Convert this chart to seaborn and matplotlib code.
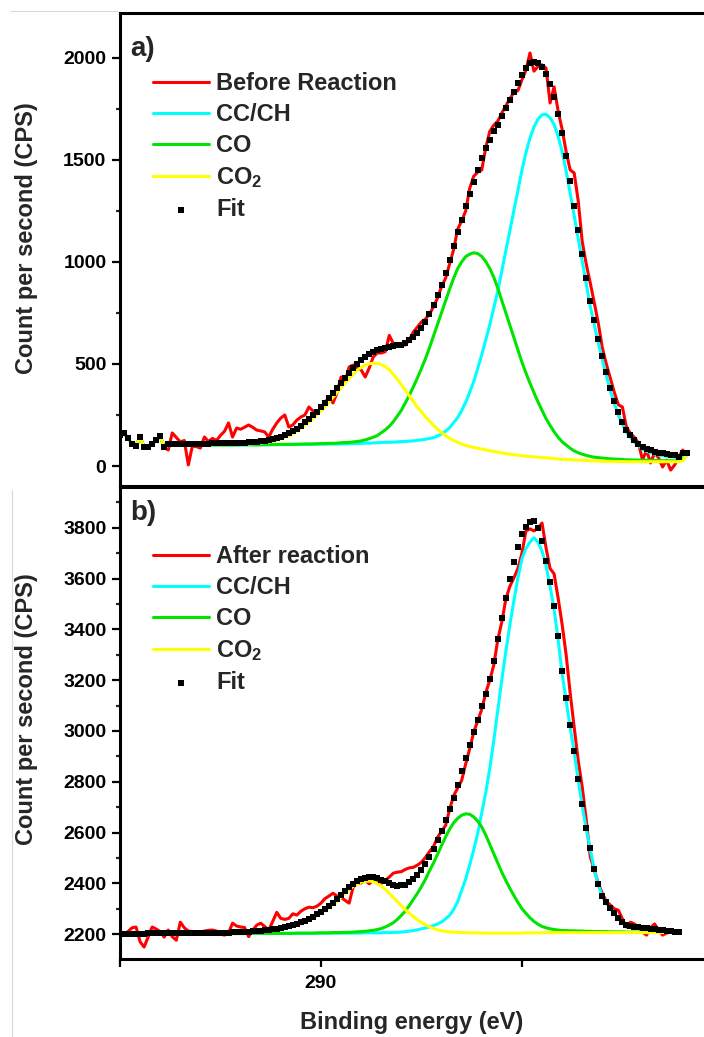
import numpy as np
import matplotlib
matplotlib.use("Agg")
import matplotlib.pyplot as plt
from matplotlib.lines import Line2D
from matplotlib.ticker import MultipleLocator
import seaborn as sns

# ---------------------------------------------------------------------------
# C 1s spectra, binding energy in eV (0.1 eV steps, high -> low)
# ---------------------------------------------------------------------------
energy_before = np.round(np.arange(295.0, 280.85, -0.1), 1)   # 295.0 ... 280.9
energy_after = np.round(np.arange(295.0, 281.05, -0.1), 1)    # 295.0 ... 281.1

# --- a) before reaction -----------------------------------------------------
before_counts = [
    150, 162, 135, 110, 100, 140, 95, 92, 108, 125,
    148, 92, 78, 162, 140, 118, 125, 5, 98, 95,
    88, 142, 120, 135, 125, 150, 170, 211, 142, 186,
    180, 190, 201, 190, 176, 172, 167, 142, 180, 211,
    235, 250, 191, 201, 225, 240, 250, 289, 270, 260,
    289, 314, 333, 309, 358, 436, 412, 485, 495, 480,
    471, 436, 480, 534, 554, 554, 560, 640, 600, 593,
    593, 593, 620, 657, 681, 706, 720, 745, 780, 823,
    880, 920, 990, 1060, 1160, 1200, 1250, 1360, 1420, 1440,
    1451, 1560, 1640, 1670, 1690, 1730, 1765, 1800, 1830, 1840,
    1892, 1940, 2024, 1935, 1958, 1966, 1950, 1779, 1858, 1740,
    1650, 1540, 1451, 1436, 1300, 1100, 990, 897, 800, 700,
    580, 500, 430, 360, 300, 289, 190, 160, 140, 113,
    29, 78, 15, 64, 40, -5, 29, -20, 5, 44,
    78, 54,
]
before_cc = [
    150, 162, 135, 110, 100, 140, 95, 92, 108, 125,
    148, 92, 103, 103, 103, 103, 103, 103, 103, 103,
    103, 103, 103, 103, 103, 104, 104, 104, 104, 104,
    104, 104, 104, 104, 104, 104, 104, 104, 105, 105,
    105, 105, 105, 105, 105, 106, 106, 106, 107, 107,
    107, 107, 108, 108, 108, 108, 108, 109, 110, 110,
    111, 112, 112, 113, 114, 115, 116, 116, 117, 118,
    120, 120, 122, 123, 126, 128, 131, 135, 139, 147,
    157, 170, 188, 212, 237, 271, 312, 361, 413, 478,
    545, 618, 692, 774, 858, 956, 1055, 1154, 1252, 1351,
    1449, 1536, 1607, 1662, 1700, 1721, 1724, 1706, 1674, 1617,
    1541, 1445, 1338, 1226, 1115, 1004, 894, 783, 693, 603,
    520, 444, 367, 306, 250, 203, 165, 140, 116, 100,
    82, 72, 65, 59, 54, 51, 48, 45, 43, 40,
    42, 58,
]
before_co = [
    150, 162, 135, 110, 100, 140, 95, 92, 108, 125,
    148, 92, 102, 102, 102, 102, 102, 102, 102, 103,
    103, 103, 103, 103, 103, 103, 103, 103, 103, 103,
    104, 104, 104, 104, 104, 104, 105, 105, 105, 105,
    106, 106, 106, 107, 107, 107, 108, 108, 108, 109,
    110, 110, 111, 111, 112, 114, 115, 116, 118, 120,
    123, 128, 134, 141, 149, 163, 177, 195, 217, 245,
    273, 310, 347, 388, 432, 478, 526, 580, 637, 694,
    752, 809, 866, 920, 967, 1000, 1026, 1038, 1045, 1041,
    1027, 1002, 968, 925, 871, 811, 750, 690, 629, 569,
    509, 456, 406, 359, 314, 273, 232, 199, 168, 141,
    119, 103, 87, 74, 65, 58, 52, 47, 43, 41,
    39, 37, 35, 34, 33, 32, 30, 30, 29, 29,
    28, 28, 27, 27, 27, 26, 26, 26, 25, 25,
    28, 58,
]
before_co2 = [
    150, 162, 135, 110, 100, 140, 95, 92, 108, 125,
    148, 92, 102, 102, 102, 102, 103, 103, 103, 103,
    103, 104, 104, 104, 105, 105, 105, 106, 106, 106,
    107, 108, 108, 109, 111, 113, 115, 118, 121, 127,
    133, 140, 148, 159, 171, 185, 200, 216, 233, 251,
    270, 290, 313, 337, 360, 383, 406, 429, 451, 469,
    483, 494, 501, 504, 503, 497, 487, 472, 450, 425,
    398, 371, 343, 316, 288, 265, 241, 220, 199, 181,
    164, 149, 136, 125, 116, 107, 101, 96, 91, 87,
    83, 79, 75, 71, 68, 64, 61, 58, 55, 53,
    51, 48, 46, 45, 43, 41, 40, 38, 36, 35,
    33, 32, 31, 30, 29, 28, 27, 26, 25, 24,
    24, 23, 23, 22, 22, 22, 21, 21, 21, 21,
    21, 21, 21, 21, 21, 21, 21, 21, 21, 21,
    25, 58,
]
before_fit = [
    150, 162, 135, 110, 100, 140, 95, 92, 108, 125,
    148, 92, 107, 107, 107, 107, 108, 108, 108, 109,
    110, 110, 110, 111, 111, 112, 112, 112, 113, 113,
    114, 115, 116, 117, 118, 121, 123, 127, 130, 136,
    142, 151, 160, 171, 183, 198, 214, 230, 248, 266,
    287, 307, 331, 356, 380, 406, 430, 455, 478, 498,
    519, 536, 548, 558, 567, 575, 580, 583, 587, 591,
    593, 604, 616, 632, 652, 677, 706, 745, 787, 836,
    889, 946, 1010, 1079, 1146, 1208, 1273, 1333, 1391, 1452,
    1507, 1557, 1599, 1640, 1673, 1713, 1754, 1794, 1834, 1875,
    1915, 1950, 1973, 1982, 1977, 1957, 1922, 1871, 1810, 1727,
    1631, 1520, 1398, 1274, 1155, 1038, 923, 808, 715, 622,
    539, 461, 383, 321, 263, 215, 176, 151, 126, 110,
    95, 85, 77, 71, 66, 62, 59, 56, 53, 45,
    66, 62,
]

# --- b) after reaction ------------------------------------------------------
after_counts = [
    2205, 2200, 2210, 2225, 2228, 2170, 2149, 2188, 2228, 2220,
    2210, 2188, 2216, 2190, 2176, 2247, 2225, 2212, 2210, 2205,
    2208, 2212, 2215, 2216, 2212, 2200, 2196, 2205, 2243, 2232,
    2228, 2226, 2190, 2215, 2235, 2243, 2230, 2216, 2250, 2286,
    2262, 2258, 2262, 2280, 2275, 2290, 2300, 2306, 2304, 2310,
    2322, 2340, 2350, 2361, 2350, 2345, 2333, 2322, 2385, 2400,
    2402, 2412, 2398, 2412, 2405, 2400, 2410, 2425, 2440, 2444,
    2446, 2455, 2461, 2463, 2472, 2483, 2502, 2525, 2545, 2581,
    2605, 2628, 2690, 2745, 2775, 2805, 2870, 2930, 2995, 3040,
    3085, 3150, 3200, 3260, 3360, 3430, 3520, 3570, 3603, 3640,
    3700, 3788, 3796, 3788, 3800, 3819, 3721, 3640, 3619, 3524,
    3420, 3300, 3150, 3015, 2884, 2780, 2650, 2505, 2452, 2400,
    2360, 2330, 2314, 2300, 2294, 2260, 2228, 2247, 2240, 2228,
    2208, 2196, 2225, 2240, 2216, 2196, 2204, 2208, 2206, 2207,
]
after_cc = [
    2202, 2202, 2202, 2202, 2202, 2202, 2202, 2202, 2202, 2202,
    2202, 2202, 2202, 2202, 2202, 2202, 2202, 2202, 2202, 2202,
    2203, 2203, 2203, 2203, 2203, 2203, 2203, 2203, 2203, 2203,
    2203, 2203, 2203, 2203, 2203, 2203, 2203, 2203, 2203, 2203,
    2203, 2203, 2203, 2203, 2203, 2203, 2203, 2203, 2203, 2203,
    2204, 2204, 2204, 2204, 2204, 2204, 2204, 2204, 2204, 2204,
    2204, 2205, 2205, 2205, 2205, 2205, 2206, 2206, 2207, 2207,
    2208, 2210, 2212, 2214, 2217, 2221, 2224, 2229, 2234, 2240,
    2248, 2260, 2274, 2297, 2327, 2372, 2417, 2472, 2532, 2597,
    2677, 2758, 2853, 2963, 3083, 3203, 3313, 3418, 3513, 3603,
    3678, 3719, 3744, 3761, 3744, 3709, 3651, 3570, 3478, 3362,
    3225, 3121, 3015, 2916, 2806, 2706, 2614, 2535, 2454, 2395,
    2347, 2322, 2300, 2280, 2261, 2244, 2234, 2229, 2226, 2225,
    2223, 2221, 2219, 2217, 2215, 2213, 2212, 2210, 2209, 2208,
]
after_co = [
    2202, 2202, 2202, 2202, 2202, 2202, 2202, 2202, 2202, 2202,
    2202, 2202, 2202, 2202, 2202, 2202, 2202, 2202, 2202, 2202,
    2202, 2202, 2202, 2202, 2202, 2202, 2202, 2202, 2202, 2202,
    2202, 2202, 2203, 2203, 2203, 2203, 2203, 2203, 2203, 2203,
    2203, 2203, 2203, 2203, 2204, 2204, 2204, 2204, 2204, 2205,
    2205, 2205, 2205, 2206, 2206, 2206, 2207, 2207, 2208, 2209,
    2210, 2211, 2213, 2215, 2218, 2222, 2228, 2236, 2245, 2258,
    2274, 2291, 2313, 2337, 2361, 2387, 2416, 2449, 2480, 2514,
    2548, 2583, 2613, 2638, 2656, 2668, 2674, 2672, 2662, 2645,
    2622, 2590, 2553, 2516, 2480, 2443, 2411, 2380, 2352, 2325,
    2300, 2282, 2264, 2250, 2239, 2230, 2225, 2221, 2218, 2216,
    2214, 2214, 2213, 2213, 2212, 2212, 2211, 2211, 2210, 2210,
    2210, 2210, 2209, 2209, 2209, 2209, 2208, 2208, 2208, 2208,
    2208, 2208, 2208, 2208, 2208, 2208, 2208, 2207, 2207, 2207,
]
after_co2 = [
    2201, 2201, 2201, 2201, 2201, 2201, 2201, 2201, 2201, 2201,
    2202, 2202, 2202, 2202, 2202, 2203, 2203, 2203, 2203, 2203,
    2203, 2203, 2203, 2203, 2204, 2204, 2204, 2204, 2205, 2205,
    2205, 2206, 2207, 2208, 2209, 2211, 2213, 2215, 2217, 2219,
    2221, 2224, 2227, 2231, 2236, 2242, 2247, 2254, 2263, 2272,
    2283, 2293, 2304, 2315, 2330, 2345, 2360, 2375, 2388, 2398,
    2405, 2408, 2409, 2406, 2400, 2389, 2376, 2360, 2344, 2328,
    2312, 2296, 2282, 2269, 2257, 2246, 2237, 2229, 2222, 2217,
    2213, 2211, 2209, 2208, 2207, 2206, 2206, 2205, 2205, 2205,
    2204, 2204, 2204, 2204, 2204, 2204, 2204, 2204, 2204, 2204,
    2204, 2205, 2205, 2205, 2205, 2205, 2206, 2206, 2206, 2206,
    2206, 2206, 2206, 2206, 2206, 2206, 2206, 2206, 2206, 2206,
    2206, 2206, 2206, 2206, 2206, 2206, 2206, 2206, 2206, 2206,
    2206, 2206, 2206, 2206, 2206, 2206, 2206, 2206, 2206, 2206,
]
after_fit = [
    2202, 2202, 2202, 2202, 2202, 2202, 2202, 2203, 2203, 2203,
    2203, 2203, 2203, 2203, 2203, 2204, 2204, 2204, 2204, 2204,
    2205, 2205, 2205, 2205, 2206, 2206, 2206, 2206, 2207, 2207,
    2208, 2209, 2210, 2211, 2212, 2214, 2216, 2218, 2220, 2222,
    2225, 2228, 2231, 2235, 2240, 2246, 2252, 2259, 2268, 2278,
    2289, 2300, 2311, 2322, 2337, 2353, 2369, 2384, 2398, 2409,
    2417, 2421, 2424, 2423, 2421, 2415, 2408, 2400, 2394, 2391,
    2392, 2395, 2405, 2418, 2433, 2452, 2475, 2505, 2534, 2569,
    2607, 2649, 2691, 2738, 2786, 2842, 2892, 2944, 2995, 3043,
    3099, 3146, 3204, 3277, 3361, 3444, 3522, 3600, 3665, 3726,
    3776, 3805, 3825, 3828, 3800, 3750, 3671, 3586, 3491, 3373,
    3235, 3130, 3023, 2923, 2812, 2711, 2619, 2540, 2458, 2399,
    2351, 2326, 2303, 2283, 2264, 2247, 2237, 2231, 2228, 2227,
    2225, 2223, 2221, 2219, 2217, 2215, 2213, 2211, 2210, 2209,
]

component_labels = ["CC/CH", "CO", "CO$_2$"]
x_ticks = [295, 290, 285]
x_tick_labels = ["", "290", ""]

RED, CYAN, GREEN, YELLOW = "#ff0000", "#00ffff", "#00e400", "#ffff00"

# ---------------------------------------------------------------------------
sns.set_theme(style="ticks")
plt.rcParams.update({
    "font.family": ["Liberation Sans", "DejaVu Sans"],
    "font.weight": "bold",
    "axes.labelweight": "bold",
    "mathtext.fontset": "custom",
    "mathtext.rm": "Liberation Sans:bold",
    "mathtext.bf": "Liberation Sans:bold",
    "mathtext.it": "Liberation Sans:bold:italic",
    "mathtext.default": "rm",
    "axes.linewidth": 2.2,
    "axes.edgecolor": "black",
})

W, H = 704, 1037
fig = plt.figure(figsize=(W / 100, H / 100), dpi=100)


def px_axes(left, top, right, bottom):
    return fig.add_axes([left / W, 1 - bottom / H, (right - left) / W, (bottom - top) / H])


ax_a = px_axes(120, 13, 704, 486)
ax_b = px_axes(120, 487, 704, 959)


def draw_panel(ax, energy, counts, cc, co, co2, fit, data_label):
    lw = 2.2
    sns.lineplot(x=energy, y=counts, ax=ax, color=RED, lw=lw, label=data_label,
                 sort=False, estimator=None)
    for vals, col, lab in zip((cc, co, co2), (CYAN, GREEN, YELLOW), component_labels):
        sns.lineplot(x=energy, y=vals, ax=ax, color=col, lw=lw, label=lab,
                     sort=False, estimator=None)
    sns.scatterplot(x=energy, y=fit, ax=ax, marker="s", s=20, color="black",
                    linewidth=0, label="Fit", zorder=5)

    ax.set_xlim(295, 280.47)
    ax.spines["right"].set_visible(False)
    for side in ("left", "top", "bottom"):
        ax.spines[side].set_linewidth(2.2)
    ax.tick_params(axis="y", which="major", direction="out", length=5.8, width=1.6,
                   labelsize=14, pad=4, colors="black")
    ax.tick_params(axis="y", which="minor", direction="out", length=3.0, width=1.6)
    ax.set_ylabel("Count per second (CPS)", fontsize=17, fontweight="bold")
    ax.set_xlabel("")


draw_panel(ax_a, energy_before, before_counts, before_cc, before_co, before_co2,
           before_fit, "Before Reaction")
draw_panel(ax_b, energy_after, after_counts, after_cc, after_co, after_co2,
           after_fit, "After reaction")

# y scales
ax_a.set_ylim(-98, 2220)
ax_a.yaxis.set_major_locator(MultipleLocator(500))
ax_a.yaxis.set_minor_locator(MultipleLocator(250))
ax_b.set_ylim(2102, 3961)
ax_b.yaxis.set_major_locator(MultipleLocator(200))
ax_b.yaxis.set_minor_locator(MultipleLocator(100))

# x axis only labelled on the lower panel
ax_a.tick_params(axis="x", which="both", bottom=False, labelbottom=False)
ax_b.set_xticks(x_ticks)
ax_b.set_xticklabels(x_tick_labels)
ax_b.tick_params(axis="x", which="major", direction="out", length=5.8, width=1.6,
                 labelsize=14, pad=6, colors="black")
ax_b.set_xlabel("Binding energy (eV)", fontsize=17, fontweight="bold")
ax_b.xaxis.set_label_coords(0.5, -0.111)

ax_a.yaxis.set_label_coords(-0.1404, 0.524)
ax_b.yaxis.set_label_coords(-0.1404, 0.530)

for lab in ax_a.get_yticklabels() + ax_b.get_yticklabels() + ax_b.get_xticklabels():
    lab.set_fontweight("bold")

# legends
for ax, top_px in ((ax_a, 72.0), (ax_b, 545.0)):
    ax.legend(loc="upper left", bbox_to_anchor=(153 / W, 1 - top_px / H),
              bbox_transform=fig.transFigure, frameon=False,
              prop={"size": 17, "weight": "bold"}, handlelength=2.37,
              handletextpad=0.3, labelspacing=0.34, borderpad=0, borderaxespad=0)

# panel tags
fig.text(130 / W, 1 - 56 / H, "a)", fontsize=20, fontweight="bold", va="baseline")
fig.text(130 / W, 1 - 520 / H, "b)", fontsize=20, fontweight="bold", va="baseline")

# faint frame edges of the two panels
fig.add_artist(Line2D([10 / W, 118 / W], [1 - 11 / H, 1 - 11 / H], color="#dadada",
                      lw=0.8, transform=fig.transFigure))
fig.add_artist(Line2D([12 / W, 12 / W], [1 - 490 / H, 0], color="#dadada",
                      lw=0.8, transform=fig.transFigure))

fig.savefig("out.png", dpi=100)
